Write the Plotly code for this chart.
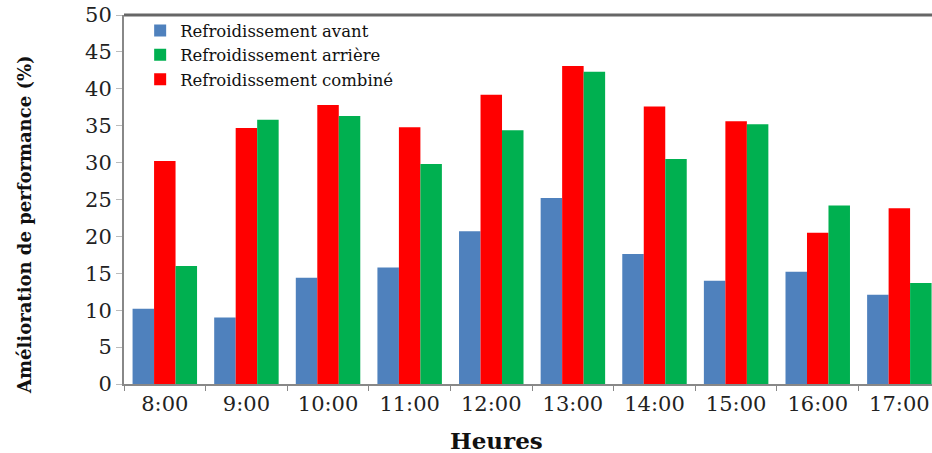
import plotly.graph_objects as go

heures = ["8:00", "9:00", "10:00", "11:00", "12:00", "13:00", "14:00", "15:00", "16:00", "17:00"]
avant = [10.2, 9.0, 14.4, 15.8, 20.7, 25.2, 17.6, 14.0, 15.2, 12.1]
combine = [30.2, 34.7, 37.8, 34.8, 39.2, 43.1, 37.6, 35.6, 20.5, 23.8]
arriere = [16.0, 35.8, 36.3, 29.8, 34.4, 42.3, 30.5, 35.2, 24.2, 13.7]

font = "DejaVu Serif"

fig = go.Figure()
fig.add_trace(go.Bar(x=heures, y=avant, name="Refroidissement avant",
                     marker=dict(color="#4F81BD", line=dict(width=0)), legendrank=1))
fig.add_trace(go.Bar(x=heures, y=combine, name="Refroidissement combiné",
                     marker=dict(color="#FF0000", line=dict(width=0)), legendrank=3))
fig.add_trace(go.Bar(x=heures, y=arriere, name="Refroidissement arrière",
                     marker=dict(color="#00B050", line=dict(width=0)), legendrank=2))

fig.update_layout(
    width=932, height=453,
    margin=dict(l=124, r=0, t=15, b=69),
    paper_bgcolor="white", plot_bgcolor="white",
    barmode="group", bargap=0.21, bargroupgap=0,
    font=dict(family=font, color="#222", size=19),
    legend=dict(x=0.02, y=1.005, xanchor="left", yanchor="top",
                font=dict(family=font, size=16.5, color="#111"),
                bgcolor="rgba(0,0,0,0)", tracegroupgap=0, itemwidth=30),
    showlegend=True,
    xaxis=dict(type="category", range=[-0.5, 9.4], showline=True, linecolor="#888",
               linewidth=2, ticks="outside", tickson="boundaries", ticklen=5,
               tickcolor="#888", showgrid=False,
               tickfont=dict(family=font, size=21, color="#222")),
    yaxis=dict(range=[0, 50], dtick=5, showline=True, linecolor="#888", linewidth=2,
               ticks="outside", ticklen=6, tickcolor="#bbb", showgrid=False,
               tickfont=dict(family=font, size=21, color="#222")),
    shapes=[dict(type="line", xref="paper", yref="paper", x0=0, x1=1, y0=1, y1=1,
                 line=dict(color="#666", width=3))],
    annotations=[
        dict(text="<b>Heures</b>", xref="paper", yref="paper", x=0.4616, y=0,
             xanchor="center", yanchor="middle", yshift=-56, showarrow=False,
             font=dict(family=font, size=23, color="#111")),
        dict(text="<b>Amélioration de performance (%)</b>", xref="paper", yref="paper",
             x=0, y=0.431, xanchor="center", yanchor="middle", xshift=-99, textangle=-90,
             showarrow=False, font=dict(family=font, size=18, color="#111")),
    ],
)

fig.write_html("out.html", config={"displayModeBar": False},
               post_script="document.body.style.margin='0';")
